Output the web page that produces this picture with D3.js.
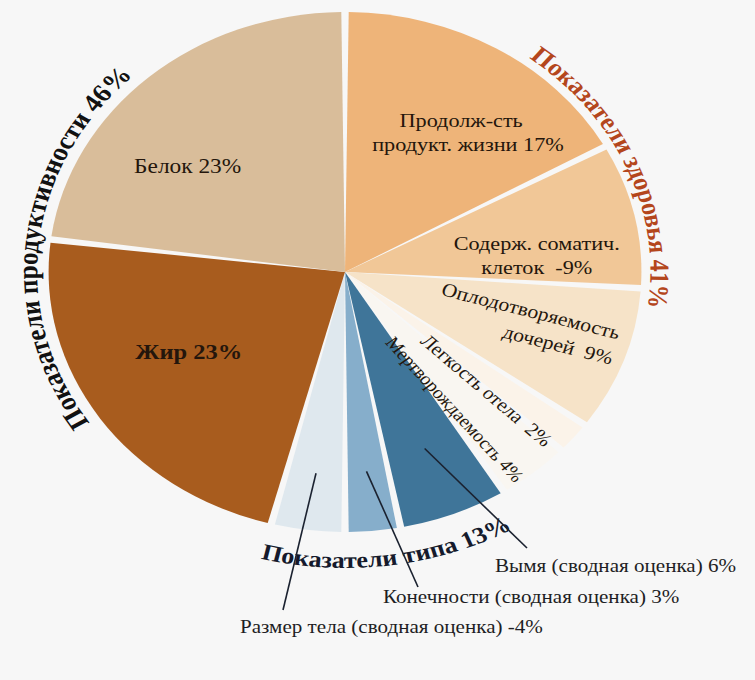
<!DOCTYPE html>
<html><head><meta charset="utf-8">
<script src="https://cdn.jsdelivr.net/npm/d3@7"></script>
<style>html,body{margin:0;padding:0;background:#f7f7f7;} svg{display:block;}</style>
</head><body>
<svg id="chart" width="755" height="680"></svg>
<script>
// ---------- data ----------
const sliceNames = ["Продолж-сть продукт. жизни", "Содерж. соматич. клеток", "Оплодотворяемость дочерей",
  "Легкость отела", "Мертворождаемость", "Вымя (сводная оценка)", "Конечности (сводная оценка)",
  "Размер тела (сводная оценка)", "Жир", "Белок"];
const sliceValues = [17, -9, 9, 2, 4, 6, 3, -4, 23, 23];
const groupNames = ["Показатели здоровья", "Показатели типа", "Показатели продуктивности"];
const groupValues = [41, 13, 46];
// ---------- styles ----------
const sliceColors = ["#eeb479", "#f1c797", "#f6e3c8", "#fbf3e9", "#f9f6f1", "#3f7599", "#86aecb", "#dfe8ee", "#a85c1e", "#d9bd9a"];

const W = 755, H = 680, cx = 345, cy = 272, R = 260, sx = 1.14;
const FONT = "'Liberation Serif','DejaVu Serif',serif";
const svg = d3.select("#chart");
svg.append("rect").attr("width", W).attr("height", H).attr("fill", "#f7f7f7");

const pie = d3.pie().value(d => Math.abs(d)).sort(null);
const arcs = pie(sliceValues);
const arc = d3.arc().innerRadius(0).outerRadius(R).padRadius(R).padAngle(6.5 / R);
const deg = Math.PI / 180;
const pt = (aDeg, r) => [r * Math.sin(aDeg * deg), -r * Math.cos(aDeg * deg)];
const mid = d => (d.startAngle + d.endAngle) / 2 / deg;

const g = svg.append("g").attr("transform", `translate(${cx},${cy}) scale(${sx},1)`);

g.selectAll("path.slice").data(arcs).join("path")
  .attr("class", "slice")
  .attr("d", arc)
  .attr("fill", (d, i) => sliceColors[i]);

// ---------- in-slice labels ----------
const v = i => `${sliceValues[i]}%`;
const inLabels = [
  { i: 0, da: 6, r: 0.67, rot: 0, size: 19.5, bold: false, lh: 24, lines: ["Продолж-сть", `продукт. жизни ${v(0)}`], dx: [-2, 4] },
  { i: 1, da: 7, r: 0.65, rot: 0, size: 19.5, bold: false, lh: 24, lines: ["Содерж. соматич.", `клеток  ${v(1)}`], dx: [0, 0] },
  { i: 2, da: -2, r: 0.645, rot: 16, size: 19, bold: false, lh: 26, lines: ["Оплодотворяемость", `дочерей  ${v(2)}`], dx: [0, 32] },
  { i: 3, da: 4, r: 0.66, rot: 44, size: 18.5, bold: false, lh: 0, lines: [`Легкость отела  ${v(3)}`], dx: [0] },
  { i: 4, da: 4.5, r: 0.645, rot: 51, size: 17.5, bold: false, lh: 0, lines: [`Мертворождаемость ${v(4)}`], dx: [0] },
  { i: 8, da: 4, r: 0.61, rot: 0, size: 21.5, bold: true, lh: 0, lines: [`Жир ${v(8)}`], dx: [0] },
  { i: 9, da: -11, r: 0.67, rot: 0, size: 20.5, bold: false, lh: 0, lines: [`Белок ${v(9)}`], dx: [0] }
];
inLabels.forEach(L => {
  const a = mid(arcs[L.i]) + L.da;
  const [x, y] = pt(a, L.r * R);
  const t = g.append("text")
    .attr("transform", `translate(${x},${y}) rotate(${L.rot})`)
    .attr("font-family", FONT).attr("font-size", L.size)
    .attr("font-weight", L.bold ? "bold" : "normal")
    .attr("fill", "#24160c").attr("text-anchor", "middle")
    .attr("xml:space", "preserve");
  const n = L.lines.length;
  L.lines.forEach((s, k) => {
    t.append("tspan").attr("x", L.dx[k]).attr("y", (k - (n - 1) / 2) * L.lh + 0.35 * L.size).text(s);
  });
});

// ---------- curved group labels (laid out on an arc, then split per glyph) ----------
function arcPath(a0, a1, r) {
  const p0 = pt(a0, r), p1 = pt(a1, r);
  const sweep = a1 > a0 ? 1 : 0;
  const large = Math.abs(a1 - a0) > 180 ? 1 : 0;
  return `M${p0[0]},${p0[1]}A${r},${r} 0 ${large} ${sweep} ${p1[0]},${p1[1]}`;
}
const groupPaths = [
  { id: "gp0", a0: 37, a1: 120, r: 268, size: 24, color: "#b4461c" },
  { id: "gp1", a0: 194.5, a1: 140, r: 296, size: 23, color: "#151a2c" },
  { id: "gp2", a0: 236, a1: 335, r: 270, size: 25, color: "#111111" }
];
const defs = svg.append("defs");
groupPaths.forEach((p, k) => {
  defs.append("path").attr("id", p.id).attr("d", arcPath(p.a0, p.a1, p.r));
  const label = `${groupNames[k]} ${groupValues[k]}%`;
  const tmp = g.append("text")
    .attr("font-family", FONT).attr("font-size", p.size).attr("font-weight", "bold")
    .attr("fill", p.color);
  tmp.append("textPath").attr("href", "#" + p.id).attr("startOffset", 0).text(label);
  const node = tmp.node();
  const n = node.getNumberOfChars();
  const glyphs = [];
  for (let c = 0; c < n; c++) {
    const ch = label[c];
    if (ch === " ") continue;
    let pos, rot;
    try { pos = node.getStartPositionOfChar(c); rot = node.getRotationOfChar(c); } catch (e) { pos = null; }
    if (!pos) { glyphs.length = 0; break; }
    glyphs.push({ ch, x: pos.x, y: pos.y, rot });
  }
  if (glyphs.length) {
    tmp.remove();
    const grp = g.append("g").attr("class", "curved-label");
    glyphs.forEach(gl => {
      grp.append("text")
        .attr("transform", `translate(${gl.x},${gl.y}) rotate(${gl.rot})`)
        .attr("font-family", FONT).attr("font-size", p.size).attr("font-weight", "bold")
        .attr("fill", p.color).text(gl.ch);
    });
  }
});

// ---------- callout labels (type slices) ----------
const callouts = [
  { i: 5, r: 0.73, x: 495, y: 572, ex: 32, ey: -24 },
  { i: 6, r: 0.77, x: 383, y: 603, ex: 35, ey: -16 },
  { i: 7, r: 0.78, x: 240, y: 633, ex: 43, ey: -23 }
];
callouts.forEach(c => {
  svg.append("text")
    .attr("transform", `translate(${c.x},${c.y}) scale(${sx},1)`)
    .attr("font-family", FONT).attr("font-size", 18.5)
    .attr("fill", "#1e1e24")
    .text(`${sliceNames[c.i]} ${v(c.i)}`);
});
callouts.forEach(c => {
  const [u, w] = pt(mid(arcs[c.i]), c.r * R);
  svg.append("line")
    .attr("x1", cx + u * sx).attr("y1", cy + w)
    .attr("x2", c.x + c.ex).attr("y2", c.y + c.ey)
    .attr("stroke", "#1b2230").attr("stroke-width", 1.6);
});
</script>
</body></html>
